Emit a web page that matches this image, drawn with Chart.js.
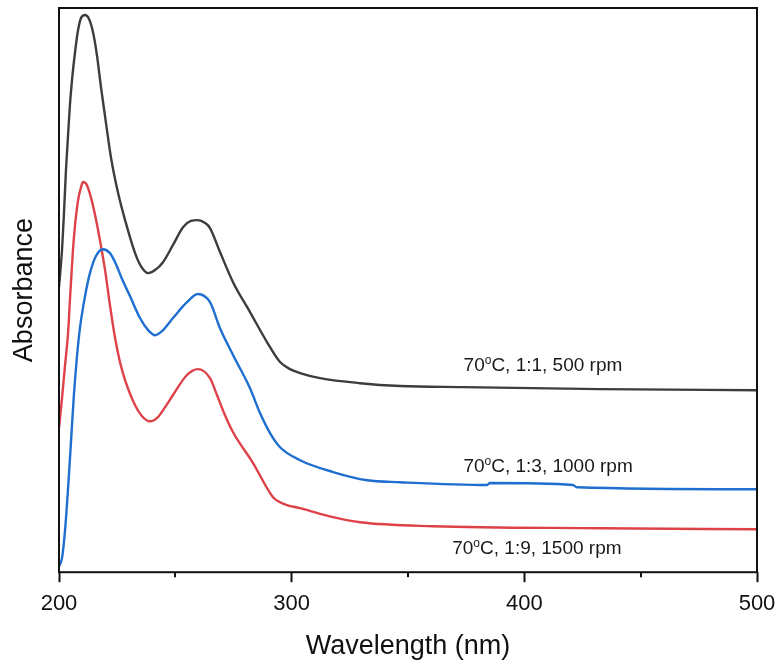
<!DOCTYPE html>
<html>
<head>
  <title>UV-Vis Absorbance</title>
  <script src="https://cdn.jsdelivr.net/npm/chart.js"></script>
  <style>
    body { margin: 0; background: #fff; }
    #wrap { width: 783px; height: 665px; }
  </style>
</head>
<body>
  <div id="wrap"><canvas id="uvChart" width="783" height="665"></canvas></div>

  <script>
    // wavelength (nm) and absorbance (a.u.)
    const nm11  = [200, 201.3, 202.1, 203.0, 203.9, 204.7, 205.6, 206.9, 208.2, 209.5, 211.2, 212.9, 214.6, 216.3, 218.1, 220.2, 222.3, 225.4, 228.4, 232.7, 235.2, 238.3, 241.3, 244.7, 249.0, 253.3, 256.7, 259.7, 262.8, 264.9, 269.2, 274.8, 282.1, 289.4, 295.0, 299.3, 303.6, 312.2, 329.4, 346.6, 373.6, 432.5, 500];
    const abs11 = [1.011, 1.142, 1.266, 1.426, 1.550, 1.656, 1.745, 1.844, 1.922, 1.965, 1.975, 1.961, 1.915, 1.833, 1.716, 1.592, 1.472, 1.344, 1.248, 1.131, 1.085, 1.060, 1.071, 1.099, 1.160, 1.223, 1.245, 1.248, 1.238, 1.220, 1.135, 1.028, 0.922, 0.816, 0.745, 0.720, 0.706, 0.688, 0.670, 0.660, 0.656, 0.649, 0.645];

    const nm13  = [200, 201.3, 202.6, 203.9, 205.2, 206.4, 207.7, 209.0, 211.2, 213.3, 215.9, 218.9, 221.9, 224.5, 227.1, 230.5, 234.8, 238.3, 241.3, 244.3, 249.0, 255.0, 259.7, 264.9, 269.2, 274.8, 282.1, 286.4, 290.7, 295.0, 303.6, 317.8, 332.4, 346.6, 384.0, 385.2, 420.9, 422.6, 500];
    const abs13 = [0.021, 0.050, 0.149, 0.298, 0.468, 0.628, 0.762, 0.865, 0.979, 1.060, 1.121, 1.145, 1.131, 1.092, 1.039, 0.979, 0.901, 0.858, 0.840, 0.855, 0.901, 0.957, 0.986, 0.957, 0.865, 0.770, 0.652, 0.564, 0.493, 0.443, 0.397, 0.355, 0.326, 0.319, 0.309, 0.316, 0.309, 0.301, 0.294];

    const nm19  = [200, 201.3, 202.6, 203.9, 204.7, 206.0, 206.9, 208.2, 209.5, 210.3, 212.0, 213.8, 215.5, 217.6, 219.8, 221.9, 224.1, 226.2, 228.4, 232.7, 235.7, 239.1, 242.5, 245.6, 249.0, 255.0, 259.7, 264.9, 267.9, 271.3, 274.8, 283.4, 292.0, 295.0, 298.0, 303.6, 317.8, 329.4, 360.7, 432.5, 500];
    const abs19 = [0.511, 0.617, 0.734, 0.848, 0.965, 1.142, 1.230, 1.319, 1.365, 1.383, 1.372, 1.326, 1.266, 1.177, 1.071, 0.947, 0.830, 0.745, 0.681, 0.592, 0.553, 0.535, 0.550, 0.585, 0.628, 0.699, 0.720, 0.688, 0.628, 0.557, 0.496, 0.387, 0.266, 0.248, 0.238, 0.227, 0.195, 0.177, 0.163, 0.156, 0.152];

    const majorTicks = [200, 300, 400, 500];
    const minorTicks = [250, 350, 450];
    const curveNames = ['C, 1:1, 500 rpm', 'C, 1:3, 1000 rpm', 'C, 1:9, 1500 rpm'];

    function toPoints(xs, ys) {
      return xs.map((x, i) => ({ x: x, y: ys[i] }));
    }

    // box round the plot + short minor ticks
    const framePlugin = {
      id: 'frame',
      afterDraw(chart) {
        const { ctx, chartArea: a } = chart;
        const xs = chart.scales.x;
        ctx.save();
        ctx.strokeStyle = '#111';
        ctx.lineWidth = 2;
        ctx.strokeRect(a.left, a.top, a.right - a.left, a.bottom - a.top);
        minorTicks.forEach(v => {
          const px = Math.round(xs.getPixelForValue(v));
          ctx.beginPath();
          ctx.moveTo(px, a.bottom);
          ctx.lineTo(px, a.bottom + 5);
          ctx.stroke();
        });
        ctx.restore();
      }
    };

    // "70°C, ..." labels next to each curve
    const labelSpots = [[408.0, 0.713], [410.2, 0.355], [405.4, 0.064]];
    const curveLabelPlugin = {
      id: 'curveLabels',
      afterDatasetsDraw(chart) {
        const { ctx } = chart;
        const xs = chart.scales.x, ys = chart.scales.y;
        const big = '19px "Liberation Sans", Arial, sans-serif';
        const small = '12px "Liberation Sans", Arial, sans-serif';
        ctx.save();
        ctx.fillStyle = '#1a1a1a';
        ctx.textBaseline = 'alphabetic';
        ctx.textAlign = 'left';
        curveNames.forEach((name, i) => {
          ctx.font = big;
          const w1 = ctx.measureText('70').width;
          const w3 = ctx.measureText(name).width;
          ctx.font = small;
          const w2 = ctx.measureText('o').width;
          const cx = xs.getPixelForValue(labelSpots[i][0]);
          const by = ys.getPixelForValue(labelSpots[i][1]);
          let x = cx - (w1 + w2 + w3) / 2;
          ctx.font = big;
          ctx.fillText('70', x, by);
          x += w1;
          ctx.font = small;
          ctx.fillText('o', x, by - 7.5);
          x += w2;
          ctx.font = big;
          ctx.fillText(name, x, by);
        });
        ctx.restore();
      }
    };

    const line = (data, color) => ({
      data: data,
      borderColor: color,
      borderWidth: 2.4,
      pointRadius: 0,
      fill: false,
      cubicInterpolationMode: 'monotone'
    });

    new Chart(document.getElementById('uvChart'), {
      type: 'line',
      data: {
        datasets: [
          line(toPoints(nm11, abs11), '#3d3d3d'),
          line(toPoints(nm13, abs13), '#1f6fd0'),
          line(toPoints(nm19, abs19), '#de4249')
        ]
      },
      options: {
        responsive: false,
        animation: false,
        layout: { padding: { top: 8, right: 26, bottom: 0, left: 0 } },
        plugins: { legend: { display: false }, tooltip: { enabled: false } },
        scales: {
          x: {
            type: 'linear',
            min: 200,
            max: 500,
            afterBuildTicks: s => { s.ticks = majorTicks.map(v => ({ value: v })); },
            border: { display: false },
            grid: { display: true, drawOnChartArea: false, drawTicks: true, tickLength: 10, tickColor: '#111', tickWidth: 2 },
            ticks: { color: '#111', padding: 5, maxRotation: 0, font: { family: '"Liberation Sans", Arial, sans-serif', size: 22, lineHeight: 1.55 } },
            title: {
              display: true,
              text: 'Wavelength (nm)',
              color: '#111',
              padding: { top: 4.3, bottom: 2 },
              font: { family: '"Liberation Sans", Arial, sans-serif', size: 27 }
            }
          },
          y: {
            min: 0,
            max: 2,
            border: { display: false },
            grid: { display: false, drawTicks: false },
            ticks: { display: false },
            title: {
              display: true,
              text: 'Absorbance',
              color: '#111',
              padding: { top: 8, bottom: 18.6 },
              font: { family: '"Liberation Sans", Arial, sans-serif', size: 27 }
            }
          }
        }
      },
      plugins: [framePlugin, curveLabelPlugin]
    });
  </script>
</body>
</html>
